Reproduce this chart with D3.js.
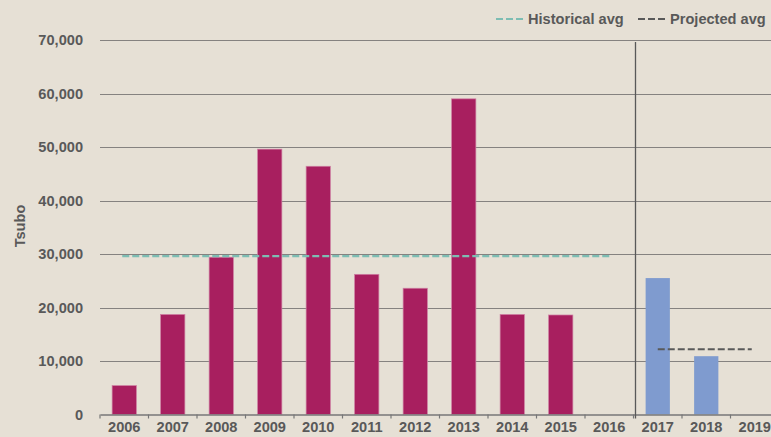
<!DOCTYPE html>
<html>
<head>
<meta charset="utf-8">
<script src="https://cdn.jsdelivr.net/npm/d3@7"></script>
<style>
  body { margin: 0; background: #e6e0d5; }
  svg { display: block; font-family: "Liberation Sans", Arial, sans-serif; }
</style>
</head>
<body>
<div id="chart"></div>
<script>
// Data
const years = ["2006", "2007", "2008", "2009", "2010", "2011", "2012",
  "2013", "2014", "2015", "2016", "2017", "2018", "2019"];
const historical = [5400, 18700, 29400, 49600, 46400, 26200, 23600,
  59000, 18700, 18600, null, null, null, null];
const projected = [null, null, null, null, null, null, null,
  null, null, null, null, 25500, 10900, null];
const historicalAvg = 29600;
const projectedAvg = 12200;
const yTicks = [0, 10000, 20000, 30000, 40000, 50000, 60000, 70000];

// Dimensions
const dimensions = {
  width: 771,
  height: 437,
  margin: { top: 40, right: -8, bottom: 23, left: 100 }
};

const fontSize = "14.6px";

const svg = d3.select("#chart")
  .append("svg")
  .attr("width", dimensions.width)
  .attr("height", dimensions.height);

svg.append("rect")
  .attr("width", dimensions.width)
  .attr("height", dimensions.height)
  .attr("fill", "#e6e0d5");

// Scales
const xScale = d3.scaleBand()
  .domain(years)
  .range([dimensions.margin.left, dimensions.width - dimensions.margin.right]);

const yScale = d3.scaleLinear()
  .domain([0, 70000])
  .range([414.5, dimensions.margin.top]);

const textColor = "#595959";

// Gridlines
svg.append("g")
  .selectAll("line")
  .data(yTicks.slice(1))
  .join("line")
  .attr("x1", dimensions.margin.left)
  .attr("x2", dimensions.width)
  .attr("y1", (d) => Math.round(yScale(d)) + 0.5)
  .attr("y2", (d) => Math.round(yScale(d)) + 0.5)
  .attr("stroke", "#858280")
  .attr("stroke-width", 1.2);

// Y axis labels
svg.append("g")
  .selectAll("text")
  .data(yTicks)
  .join("text")
  .attr("x", 83)
  .attr("y", (d) => yScale(d) + 5)
  .attr("text-anchor", "end")
  .attr("fill", textColor)
  .style("font-size", fontSize)
  .style("font-weight", "bold")
  .text((d) => d3.format(",")(d));

// Y axis title
svg.append("text")
  .attr("transform", "translate(25, 226) rotate(-90)")
  .attr("text-anchor", "middle")
  .attr("fill", textColor)
  .style("font-size", fontSize)
  .style("font-weight", "bold")
  .text("Tsubo");

// Bars
const barWidth = xScale.bandwidth() * 0.5;
const barX = (i) => xScale(years[i]) + (xScale.bandwidth() - barWidth) / 2;

svg.append("g")
  .selectAll("rect")
  .data(historical.map((v, i) => ({ v, i })).filter((d) => d.v !== null))
  .join("rect")
  .attr("x", (d) => barX(d.i))
  .attr("y", (d) => yScale(d.v))
  .attr("width", barWidth)
  .attr("height", (d) => yScale(0) - yScale(d.v))
  .attr("fill", "#a81f5f")
  .attr("stroke", "#cf7fa3")
  .attr("stroke-width", 0.7);

svg.append("g")
  .selectAll("rect")
  .data(projected.map((v, i) => ({ v, i })).filter((d) => d.v !== null))
  .join("rect")
  .attr("x", (d) => barX(d.i))
  .attr("y", (d) => yScale(d.v))
  .attr("width", barWidth)
  .attr("height", (d) => yScale(0) - yScale(d.v))
  .attr("fill", "#7f9bcf");

// X axis
const xAxis = d3.axisBottom(xScale).tickSize(0).tickSizeOuter(0);
const xAxisG = svg.append("g")
  .attr("transform", `translate(0, ${yScale(0)})`)
  .call(xAxis);
xAxisG.select(".domain").attr("stroke", "#777").attr("stroke-width", 1.3);
xAxisG.selectAll("text")
  .attr("fill", textColor)
  .attr("dy", "1.0em")
  .style("font-size", fontSize)
  .style("font-weight", "bold")
  .style("font-family", "Liberation Sans, Arial, sans-serif");

// Category boundary ticks
svg.append("g")
  .selectAll("line")
  .data(years)
  .join("line")
  .attr("x1", (d) => xScale(d))
  .attr("x2", (d) => xScale(d))
  .attr("y1", yScale(0))
  .attr("y2", yScale(0) + 4)
  .attr("stroke", "#777")
  .attr("stroke-width", 1.2);

// Divider between historical and projected
const divX = xScale("2017") + 2;
svg.append("line")
  .attr("x1", divX)
  .attr("x2", divX)
  .attr("y1", 42)
  .attr("y2", yScale(0) + 4)
  .attr("stroke", "#595959")
  .attr("stroke-width", 1.3);

// Average lines
const center = (y) => xScale(y) + xScale.bandwidth() / 2;

svg.append("line")
  .attr("x1", center("2006") - 2)
  .attr("x2", center("2016"))
  .attr("y1", yScale(historicalAvg))
  .attr("y2", yScale(historicalAvg))
  .attr("stroke", "#7dbdb3")
  .attr("stroke-width", 2.2)
  .attr("stroke-dasharray", "7,3");

svg.append("line")
  .attr("x1", center("2017"))
  .attr("x2", center("2019") - 3)
  .attr("y1", yScale(projectedAvg))
  .attr("y2", yScale(projectedAvg))
  .attr("stroke", "#595959")
  .attr("stroke-width", 2.2)
  .attr("stroke-dasharray", "7,3");

// Legend
const legendItems = [
  { label: "Historical avg", color: "#7dbdb3", x: 496 },
  { label: "Projected avg", color: "#595959", x: 638 }
];

const legend = svg.append("g")
  .selectAll("g")
  .data(legendItems)
  .join("g")
  .attr("transform", (d) => `translate(${d.x}, 19)`);

legend.append("line")
  .attr("x1", 0)
  .attr("x2", 27)
  .attr("stroke", (d) => d.color)
  .attr("stroke-width", 2.2)
  .attr("stroke-dasharray", "7,3");

legend.append("text")
  .attr("x", 32)
  .attr("y", 5)
  .attr("fill", textColor)
  .style("font-size", fontSize)
  .style("font-weight", "bold")
  .text((d) => d.label);
</script>
</body>
</html>
